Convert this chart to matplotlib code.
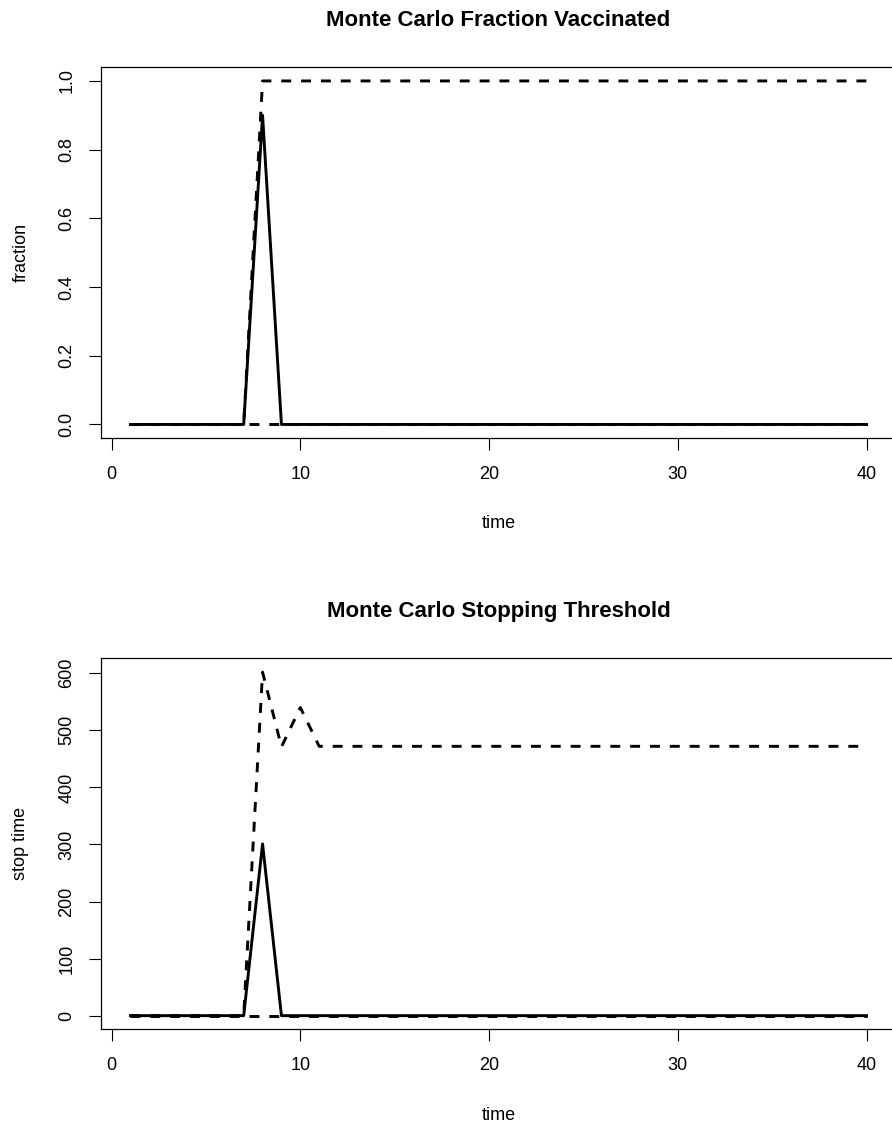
import numpy as np
import matplotlib
matplotlib.use("Agg")
import matplotlib.pyplot as plt

plt.rcParams['font.family'] = ['Liberation Sans', 'DejaVu Sans']

# Data
time = list(range(1, 41))

frac_mean = [0.0] * 7 + [0.9] + [0.0] * 32
frac_upper = [0.0] * 7 + [1.0] * 33
frac_lower = [0.0] * 40

stop_mean = [0.0] * 7 + [301.0] + [0.0] * 32
stop_upper = [0.0] * 7 + [602.0, 471.0, 540.0] + [472.0] * 30
stop_lower = [0.0] * 40

frac_ticks = [0.0, 0.2, 0.4, 0.6, 0.8, 1.0]
stop_ticks = [0, 100, 200, 300, 400, 500, 600]
time_ticks = [0, 10, 20, 30, 40]

W, H = 892, 1122
fig = plt.figure(figsize=(W / 100, H / 100), dpi=100)

LW = 2.1
DASH = (0, (3.4, 3.4))
FS = 13


def panel(rect, mean, upper, lower, yticks, yfmt, title, ylabel):
    ax = fig.add_axes(rect)
    ax.plot(time, mean, color='black', lw=LW)
    ax.plot(time, upper, color='black', lw=LW, linestyle=DASH)
    ax.plot(time, lower, color='black', lw=LW, linestyle=DASH)

    # R style 4% padding on both axes
    ymax = max(upper)
    ax.set_xlim(1 - 0.04 * 39, 40 + 0.04 * 39)
    ax.set_ylim(-0.04 * ymax, 1.04 * ymax)

    ax.set_xticks(time_ticks)
    ax.set_yticks(yticks)
    ax.set_yticklabels([yfmt.format(v) for v in yticks], rotation=90, va='center')
    ax.tick_params(direction='out', length=8.3, width=0.8, labelsize=FS)
    ax.tick_params(axis='x', pad=11.5)
    ax.tick_params(axis='y', pad=10)
    for s in ax.spines.values():
        s.set_linewidth(0.9)

    ax.set_title(title, fontsize=16, fontweight='bold', pad=30)
    ax.set_xlabel('time', fontsize=FS, labelpad=23.5)
    ax.set_ylabel(ylabel, fontsize=FS, labelpad=21)
    return ax


h = 371 / H
panel([101 / W, 1 - 438.2 / H, 795 / W, h], frac_mean, frac_upper, frac_lower,
      frac_ticks, '{:.1f}', 'Monte Carlo Fraction Vaccinated', 'fraction')
panel([101 / W, 1 - 1029.4 / H, 795 / W, h], stop_mean, stop_upper, stop_lower,
      stop_ticks, '{:d}', 'Monte Carlo Stopping Threshold', 'stop time')

fig.savefig('out.png', dpi=100)
